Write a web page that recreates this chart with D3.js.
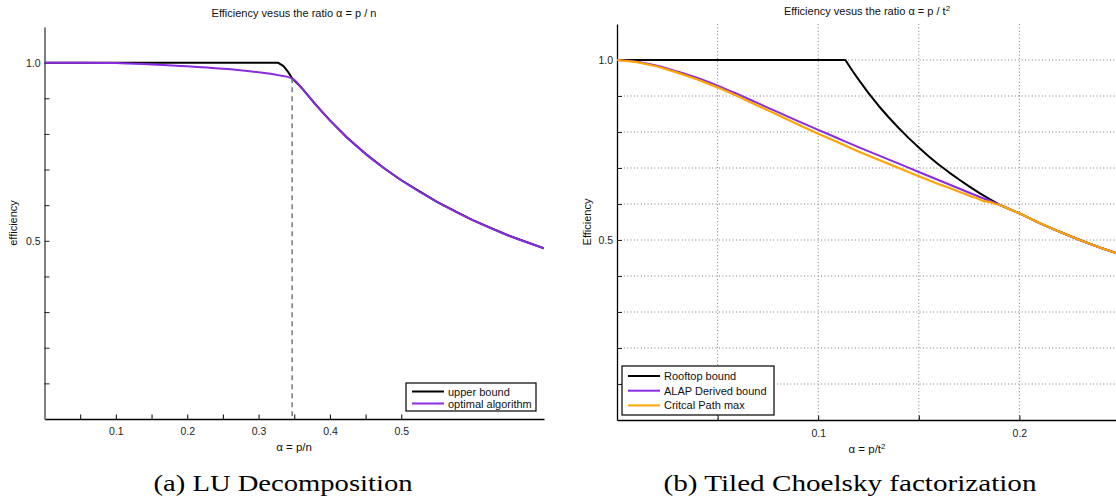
<!DOCTYPE html>
<html>
<head>
<meta charset="utf-8">
<script src="https://cdn.jsdelivr.net/npm/d3@7"></script>
<style>
  body { margin: 0; background: #fff; }
  svg { display: block; }
</style>
</head>
<body>
<svg id="fig" width="1116" height="496" font-family='"Liberation Sans", Arial, Helvetica, sans-serif'></svg>
<script>
// ---------- (a) LU decomposition ----------
const luUpperAlpha = [0, 0.1, 0.2, 0.3, 0.327, 0.335, 0.341, 0.347, 0.36, 0.38, 0.40, 0.425, 0.45, 0.475, 0.50, 0.55, 0.60, 0.65, 0.70];
const luUpperEff   = [1, 1, 1, 1, 1, 0.99, 0.975, 0.956, 0.93, 0.882, 0.838, 0.788, 0.744, 0.705, 0.67, 0.609, 0.558, 0.515, 0.479];
const luOptAlpha   = [0, 0.05, 0.1, 0.15, 0.2, 0.25, 0.3, 0.327, 0.347, 0.36, 0.38, 0.40, 0.425, 0.45, 0.475, 0.50, 0.55, 0.60, 0.65, 0.70];
const luOptEff     = [1, 1, 0.999, 0.995, 0.99, 0.983, 0.973, 0.965, 0.956, 0.93, 0.882, 0.838, 0.788, 0.744, 0.705, 0.67, 0.609, 0.558, 0.515, 0.479];
const luBreakAlpha = 0.347;
const luBreakEff   = 0.956;
const luXTicks  = [0.05, 0.1, 0.15, 0.2, 0.25, 0.3, 0.35, 0.4, 0.45, 0.5];
const luXLabels = [0.1, 0.2, 0.3, 0.4, 0.5];
const luYTicks  = [0.1, 0.2, 0.3, 0.4, 0.5, 0.6, 0.7, 0.8, 0.9, 1.0];
const luYLabels = [0.5, 1.0];
const luNames   = ["upper bound", "optimal algorithm"];

// ---------- (b) tiled Cholesky factorization ----------
const chRoofAlpha = [0, 0.05, 0.1, 0.1135, 0.117, 0.12, 0.125, 0.13, 0.135, 0.14, 0.145, 0.15, 0.155, 0.16, 0.165, 0.17, 0.175, 0.18, 0.185, 0.19, 0.20, 0.21, 0.22, 0.23, 0.24, 0.25];
const chRoofEff   = [1, 1, 1, 1, 0.970, 0.946, 0.908, 0.873, 0.841, 0.811, 0.783, 0.757, 0.732, 0.709, 0.688, 0.668, 0.649, 0.631, 0.614, 0.598, 0.574, 0.547, 0.523, 0.50, 0.479, 0.46];
const chAlapAlpha = [0, 0.01, 0.02, 0.03, 0.04, 0.05, 0.06, 0.07, 0.08, 0.09, 0.10, 0.11, 0.12, 0.13, 0.14, 0.15, 0.16, 0.17, 0.18, 0.19, 0.20, 0.21, 0.22, 0.23, 0.24, 0.25];
const chAlapEff   = [1, 0.995, 0.984, 0.968, 0.95, 0.929, 0.905, 0.88, 0.855, 0.83, 0.806, 0.782, 0.758, 0.735, 0.712, 0.689, 0.666, 0.643, 0.62, 0.598, 0.574, 0.547, 0.523, 0.50, 0.479, 0.46];
const chCritAlpha = [0, 0.01, 0.02, 0.03, 0.04, 0.05, 0.06, 0.07, 0.08, 0.09, 0.10, 0.11, 0.12, 0.13, 0.14, 0.15, 0.16, 0.165, 0.17, 0.173, 0.176, 0.179, 0.182, 0.185, 0.188, 0.19, 0.20, 0.21, 0.22, 0.23, 0.24, 0.25];
const chCritEff   = [1, 0.994, 0.982, 0.965, 0.946, 0.924, 0.899, 0.873, 0.847, 0.821, 0.795, 0.771, 0.746, 0.723, 0.70, 0.677, 0.655, 0.645, 0.634, 0.628, 0.621, 0.616, 0.608, 0.606, 0.600, 0.598, 0.574, 0.547, 0.523, 0.50, 0.479, 0.46];
const chXTicks  = [0.05, 0.1, 0.15, 0.2];
const chXLabels = [0.1, 0.2];
const chYTicks  = [0.1, 0.2, 0.3, 0.4, 0.5, 0.6, 0.7, 0.8, 0.9, 1.0];
const chYLabels = [0.5, 1.0];
const chNames   = ["Rooftop bound", "ALAP Derived bound", "Critcal Path max"];

const BLACK = "#000000", PURPLE = "#8a2be2", ORANGE = "#ffa500";
const SANS = '"Liberation Sans", Arial, Helvetica, sans-serif';
const SERIF = '"Liberation Serif", "DejaVu Serif", serif';

const svg = d3.select("#fig");
const fmt = d3.format(".1f");
const has = (arr, v) => arr.some(a => Math.abs(a - v) < 1e-9);

function drawPanel(p) {
  const x = d3.scaleLinear().domain(p.xDomain).range(p.xRange);
  const y = d3.scaleLinear().domain(p.yDomain).range(p.yRange);
  const g = svg.append("g");

  g.append("clipPath").attr("id", p.id + "-clip")
    .append("rect")
    .attr("x", p.xRange[0]).attr("y", p.yRange[1] - 3)
    .attr("width", p.xRange[1] - p.xRange[0])
    .attr("height", p.yRange[0] - p.yRange[1] + 3);

  // dotted grid
  if (p.grid) {
    const grid = g.append("g").attr("stroke", "#7a7a7a").attr("stroke-width", 1)
      .attr("stroke-dasharray", "1,2.4");
    grid.selectAll(".gx").data(p.xTicks).join("line")
      .attr("x1", d => x(d)).attr("x2", d => x(d))
      .attr("y1", p.yRange[1]).attr("y2", p.yRange[0]);
    grid.selectAll(".gy").data(p.yTicks).join("line")
      .attr("x1", p.xRange[0]).attr("x2", p.xRange[1])
      .attr("y1", d => y(d)).attr("y2", d => y(d));
  }

  // axes
  const xAxis = d3.axisBottom(x).tickValues(p.xTicks)
    .tickSizeInner(-4.5).tickSizeOuter(0).tickPadding(p.xPad)
    .tickFormat(d => has(p.xLabels, d) ? fmt(d) : "");
  const gx = g.append("g").attr("transform", `translate(0,${p.yRange[0]})`).call(xAxis);
  gx.select(".domain").attr("stroke", "#000").attr("stroke-width", 1.3);
  gx.selectAll(".tick line").attr("stroke", "#000").attr("stroke-width", 1);
  gx.selectAll(".tick text").attr("font-size", 10.5).attr("fill", "#222").attr("font-family", SANS);

  const yAxis = d3.axisLeft(y).tickValues(p.yTicks)
    .tickSizeInner(-5).tickSizeOuter(0).tickPadding(4)
    .tickFormat(d => has(p.yLabels, d) ? fmt(d) : "");
  const gy = g.append("g").attr("transform", `translate(${p.xRange[0]},0)`).call(yAxis);
  gy.select(".domain").attr("stroke", p.yAxisColor).attr("stroke-width", p.yAxisWidth);
  gy.selectAll(".tick line").attr("stroke", "#222").attr("stroke-width", 1);
  gy.selectAll(".tick text").attr("font-size", 10.5).attr("fill", "#222").attr("font-family", SANS);

  // curves
  const curves = g.append("g").attr("clip-path", `url(#${p.id}-clip)`);
  p.series.forEach(s => {
    const line = d3.line().x(d => x(d[0])).y(d => y(d[1]))
      .curve(s.smooth ? d3.curveMonotoneX : d3.curveLinear);
    curves.append("path")
      .datum(d3.zip(s.alpha, s.eff))
      .attr("fill", "none").attr("stroke", s.color)
      .attr("stroke-width", s.width).attr("stroke-linejoin", "round")
      .attr("d", line);
  });

  if (p.breakAlpha !== undefined) {
    g.append("line")
      .attr("x1", x(p.breakAlpha)).attr("x2", x(p.breakAlpha))
      .attr("y1", y(p.breakEff)).attr("y2", y(0))
      .attr("stroke", "#555").attr("stroke-width", 1.2).attr("stroke-dasharray", "5,4");
  }

  // title
  const t = g.append("text").attr("x", p.titleX).attr("y", p.titleY)
    .attr("text-anchor", "middle").attr("font-size", 11).attr("fill", "#111");
  t.append("tspan").text(p.title);
  if (p.titleSup) t.append("tspan").attr("dy", -4.5).attr("font-size", 8).text(p.titleSup);

  // x label
  const xl = g.append("text").attr("x", p.titleX).attr("y", p.xLabelY)
    .attr("text-anchor", "middle").attr("font-size", 11.5).attr("fill", "#111");
  xl.append("tspan").text(p.xLabel);
  if (p.xLabelSup) xl.append("tspan").attr("dy", -4.5).attr("font-size", 8).text(p.xLabelSup);

  // y label
  g.append("text")
    .attr("transform", `translate(${p.yLabelX},${(p.yRange[0] + p.yRange[1]) / 2}) rotate(-90)`)
    .attr("text-anchor", "middle").attr("font-size", 11).attr("fill", "#111")
    .text(p.yLabel);

  // legend
  const L = p.legend;
  const lg = g.append("g");
  lg.append("rect").attr("x", L.x).attr("y", L.y).attr("width", L.w).attr("height", L.h)
    .attr("fill", "#fff").attr("stroke", "#000").attr("stroke-width", 1.2);
  p.series.forEach((s, i) => {
    const ly = L.y + L.first + i * L.step;
    lg.append("line").attr("x1", L.x + L.lx0).attr("x2", L.x + L.lx1)
      .attr("y1", ly).attr("y2", ly).attr("stroke", s.color).attr("stroke-width", 2);
    lg.append("text").attr("x", L.x + L.lx1 + 4).attr("y", ly + 4)
      .attr("font-size", 11).attr("fill", "#111").text(s.name);
  });

  // caption
  svg.append("text").attr("x", p.captionX).attr("y", 491)
    .attr("text-anchor", "middle")
    .attr("font-family", SERIF)
    .attr("font-size", 24).attr("fill", "#000")
    .attr("textLength", p.captionW).attr("lengthAdjust", "spacingAndGlyphs")
    .text(p.caption);
}

drawPanel({
  id: "lu",
  xDomain: [0, 0.7], xRange: [44.5, 544],
  yDomain: [0, 1.1], yRange: [419, 27],
  xTicks: luXTicks, xLabels: luXLabels, yTicks: luYTicks, yLabels: luYLabels,
  xPad: 9, grid: false, yAxisColor: "#808080", yAxisWidth: 2,
  series: [
    { name: luNames[0], alpha: luUpperAlpha, eff: luUpperEff, color: BLACK, width: 2, smooth: false },
    { name: luNames[1], alpha: luOptAlpha, eff: luOptEff, color: PURPLE, width: 2, smooth: true }
  ],
  breakAlpha: luBreakAlpha, breakEff: luBreakEff,
  title: "Efficiency vesus the ratio α = p / n", titleX: 294, titleY: 17,
  xLabel: "α = p/n", xLabelY: 451,
  yLabel: "efficiency", yLabelX: 17,
  legend: { x: 406, y: 383, w: 130, h: 28, first: 8.5, step: 12, lx0: 6, lx1: 38 },
  caption: "(a) LU Decomposition", captionX: 283, captionW: 259
});

drawPanel({
  id: "chol",
  xDomain: [0, 0.25], xRange: [617, 1120],
  yDomain: [0, 1.1], yRange: [420, 24],
  xTicks: chXTicks, xLabels: chXLabels, yTicks: chYTicks, yLabels: chYLabels,
  xPad: 10, grid: true, yAxisColor: "#000", yAxisWidth: 1.3,
  series: [
    { name: chNames[0], alpha: chRoofAlpha, eff: chRoofEff, color: BLACK, width: 2, smooth: false },
    { name: chNames[1], alpha: chAlapAlpha, eff: chAlapEff, color: PURPLE, width: 2, smooth: true },
    { name: chNames[2], alpha: chCritAlpha, eff: chCritEff, color: ORANGE, width: 2.2, smooth: false }
  ],
  title: "Efficiency vesus the ratio α = p / t", titleSup: "2", titleX: 867, titleY: 15,
  xLabel: "α = p/t", xLabelSup: "2", xLabelY: 453,
  yLabel: "Efficiency", yLabelX: 591,
  legend: { x: 622, y: 366, w: 152, h: 49, first: 10, step: 14.7, lx0: 6, lx1: 38 },
  caption: "(b) Tiled Choelsky factorization", captionX: 850, captionW: 373
});
</script>
</body>
</html>
